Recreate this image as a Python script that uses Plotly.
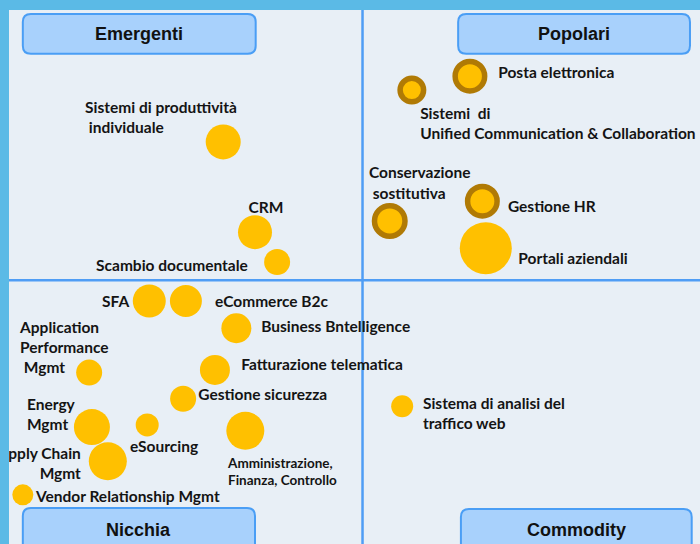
import plotly.graph_objects as go

# bubbles: position on the 0-100 map (x = left->right, y = bottom->top), size, ring flag
bubble_names = ["Posta elettronica", "Unified Communication", "Conservazione sostitutiva",
                "Gestione HR", "Portali aziendali", "Sistemi di produttività individuale",
                "CRM", "Scambio documentale", "SFA", "eCommerce B2c", "Business Bntelligence",
                "Fatturazione telematica", "Application Performance Mgmt", "Gestione sicurezza",
                "Energy Mgmt", "eSourcing", "Amministrazione, Finanza, Controllo",
                "Supply Chain Mgmt", "Vendor Relationship Mgmt", "Sistema di analisi del traffico web"]
bubble_x = [66.7, 58.3, 55.1, 68.5, 69.0, 31.0, 35.6, 38.8, 20.3, 25.6, 32.9,
            29.8, 11.6, 25.2, 12.0, 20.0, 34.2, 14.3, 2.0, 56.9]
bubble_y = [87.6, 85.0, 60.5, 64.2, 55.4, 75.3, 58.4, 52.8, 45.5, 45.5, 40.4,
            32.6, 32.1, 27.2, 21.9, 22.3, 21.2, 15.5, 9.2, 25.8]
bubble_size = [35, 29, 36, 35, 52, 35, 34, 26, 33, 32, 30,
               30, 26, 26, 36, 23, 38, 38, 21, 22]
bubble_ring = [True, True, True, True, False, False, False, False, False, False, False,
               False, False, False, False, False, False, False, False, False]

# labels
label_text = ["Posta elettronica", "Sistemi  di<br>Unified Communication & Collaboration",
              "Conservazione<br>\u00a0sostitutiva", "Gestione HR", "Portali aziendali",
              "Sistemi di produttività<br>\u00a0individuale", "CRM", "Scambio documentale",
              "SFA", "eCommerce B2c", "Business Bntelligence", "Fatturazione telematica",
              "Application<br>Performance<br>\u00a0Mgmt", "Gestione sicurezza",
              "Energy<br>Mgmt", "eSourcing", "Supply Chain<br>Mgmt", "Vendor Relationship Mgmt",
              "Sistema di analisi del<br>traffico web"]
label_x = [70.8, 59.5, 52.1, 72.2, 73.7, 11.0, 37.2, 12.6, 17.4, 29.8, 36.5, 33.6,
           1.6, 27.4, 2.6, 17.5, 10.4, 3.9, 59.9]
label_y = [88.0, 78.5, 67.3, 62.9, 53.2, 79.5, 62.7, 51.8, 45.1, 45.1, 40.4, 33.3,
           36.5, 27.7, 24.0, 18.0, 14.7, 8.6, 24.1]
label_pos = ["middle right", "middle right", "middle right", "middle right", "middle right",
             "middle right", "middle center", "middle right", "middle left", "middle right",
             "middle right", "middle right", "middle right", "middle right", "middle right",
             "middle right", "middle left", "middle right", "middle right"]

small_label = "Amministrazione,<br>Finanza, Controllo"
small_label_x = [31.7]
small_label_y = [13.3]

quadrants = ["Emergenti", "Popolari", "Nicchia", "Commodity"]
quad_boxes = [(2.0, 91.8, 35.7, 99.25), (65.0, 91.8, 98.55, 99.25),
              (2.0, -3.0, 35.6, 6.74), (65.4, -3.0, 98.8, 6.55)]

x_split, y_split = 51.16, 49.4

GOLD = "#FFC000"
BROWN = "#B07A05"
FRAME = "#5BBAE6"
RING_W = 5.5

fig = go.Figure()

# plain bubbles
plain = [i for i, r in enumerate(bubble_ring) if not r]
fig.add_trace(go.Scatter(
    x=[bubble_x[i] for i in plain], y=[bubble_y[i] for i in plain],
    mode="markers", hovertext=[bubble_names[i] for i in plain], hoverinfo="text",
    marker=dict(size=[bubble_size[i] for i in plain], color=GOLD, line=dict(width=0), opacity=1),
))

# ringed bubbles
ringed = [i for i, r in enumerate(bubble_ring) if r]
fig.add_trace(go.Scatter(
    x=[bubble_x[i] for i in ringed], y=[bubble_y[i] for i in ringed],
    mode="markers", hovertext=[bubble_names[i] for i in ringed], hoverinfo="text",
    marker=dict(size=[bubble_size[i] - RING_W for i in ringed], color=GOLD, opacity=1,
                line=dict(width=RING_W, color=BROWN)),
))

fig.add_trace(go.Scatter(
    x=label_x, y=label_y, mode="text", text=label_text, textposition=label_pos,
    textfont=dict(family="Lato", size=15.5, color="#141414", weight="bold"),
    hoverinfo="skip", cliponaxis=True,
))
fig.add_trace(go.Scatter(
    x=small_label_x, y=small_label_y, mode="text", text=[small_label],
    textposition="middle right",
    textfont=dict(family="Lato", size=13.5, color="#141414", weight="bold"),
    hoverinfo="skip", cliponaxis=True,
))

# quadrant dividers
fig.add_shape(type="line", x0=x_split, x1=x_split, y0=0, y1=100, layer="below",
              line=dict(color="#4F9DF5", width=2.5))
fig.add_shape(type="line", x0=0, x1=100, y0=y_split, y1=y_split, layer="below",
              line=dict(color="#4F9DF5", width=2.5))


def rounded_box(x0, y0, x1, y1, rx=1.16, ry=1.5):
    return (f"M {x0+rx},{y0} L {x1-rx},{y0} Q {x1},{y0} {x1},{y0+ry} "
            f"L {x1},{y1-ry} Q {x1},{y1} {x1-rx},{y1} L {x0+rx},{y1} "
            f"Q {x0},{y1} {x0},{y1-ry} L {x0},{y0+ry} Q {x0},{y0} {x0+rx},{y0} Z")


for name, (x0, y0, x1, y1) in zip(quadrants, quad_boxes):
    fig.add_shape(type="path", path=rounded_box(x0, y0, x1, y1), layer="below",
                  fillcolor="#A8D1FC", line=dict(color="#4A9EF5", width=2))
    ty = (y0 + y1) / 2 if y0 > 0 else 2.6
    fig.add_annotation(x=(x0 + x1) / 2, y=ty, text=f"<b>{name}</b>", showarrow=False,
                       font=dict(family="Liberation Sans", size=18, color="#111111"))

fig.update_xaxes(range=[0, 100], visible=False, fixedrange=True)
fig.update_yaxes(range=[0, 100], visible=False, fixedrange=True)
fig.update_layout(
    width=700, height=544,
    margin=dict(l=9, r=0, t=10, b=0),
    paper_bgcolor=FRAME, plot_bgcolor="#E8EFF6",
    showlegend=False,
)
fig.write_html("out.html", config={"displayModeBar": False},
               post_script=f"document.body.style.margin='0px';"
                           f"document.body.style.background='{FRAME}';")
